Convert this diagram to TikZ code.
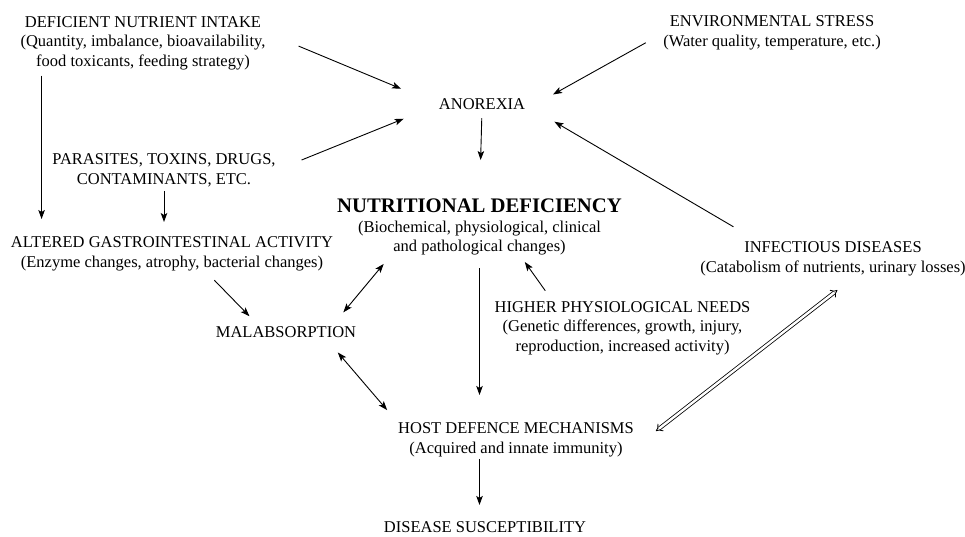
\documentclass[tikz,border=0pt]{standalone}
\usepackage{fontspec}
\setmainfont{Liberation Serif}
\usetikzlibrary{positioning,arrows.meta}

\begin{document}
\begin{tikzpicture}[x=1pt, y=-1pt, >={Stealth[length=9pt,width=6.5pt,inset=2pt]}, line width=0.9pt,
  box/.style={align=center, inner sep=0pt, outer sep=0pt, font=\fontsize{16.5}{19.5}\selectfont},
  big/.style={inner sep=0pt, outer sep=0pt, font=\fontsize{20.7}{24}\selectfont\bfseries},
  dbl/.style={double, double distance=2.4pt, line width=0.8pt, {Implies}-{Implies}}]

  \useasboundingbox (0,0) rectangle (965,537);

  \node[box] (intake) at (143,43) {DEFICIENT NUTRIENT INTAKE\\(Quantity, imbalance, bioavailability,\\food toxicants, feeding strategy)};
  \node[box] (stress) at (772,33) {ENVIRONMENTAL STRESS\\(Water quality, temperature, etc.)};
  \node[box] (anorexia) at (482,104.5) {ANOREXIA};
  \node[box] (parasites) at (164,170.5) {PARASITES, TOXINS, DRUGS,\\CONTAMINANTS, ETC.};
  \node[big] (deficiency) at (479.5,206) {NUTRITIONAL DEFICIENCY};
  \node[box] (changes) [below = 8pt of deficiency] {(Biochemical, physiological, clinical\\and pathological changes)};
  \node[box] (gut) at (172,254) {ALTERED GASTROINTESTINAL ACTIVITY\\(Enzyme changes, atrophy, bacterial changes)};
  \node[box] (infect) at (833,259) {INFECTIOUS DISEASES\\(Catabolism of nutrients, urinary losses)};
  \node[box] (malabs) at (286,332.5) {MALABSORPTION};
  \node[box] (needs) at (622.5,328) {HIGHER PHYSIOLOGICAL NEEDS\\(Genetic differences, growth, injury,\\reproduction, increased activity)};
  \node[box] (host) at (516,440) {HOST DEFENCE MECHANISMS\\(Acquired and innate immunity)};
  \node[box] (disease) at (485,527.5) {DISEASE SUSCEPTIBILITY};

  \path[->]
    (intake.5) edge[shorten <=36pt, shorten >=41pt] (anorexia.west)
    (stress.west) edge[shorten <=20pt, shorten >=32pt] (anorexia.south east)
    (parasites.east) edge[shorten <=28pt, shorten >=38pt] (anorexia.west)
    (infect.167) edge[shorten <=30pt, shorten >=34pt] (anorexia.east)
    (anorexia.south) edge[shorten <=8pt, shorten >=39pt] (deficiency.north)
    ([xshift=21pt]intake.south west) edge[shorten <=6pt, shorten >=18pt] ([xshift=21pt]intake.south west |- gut.north)
    (parasites.south) edge[shorten <=4pt, shorten >=15pt] (parasites.south |- gut.north)
    (gut.-27) edge[shorten <=13pt, shorten >=15pt] (malabs.168)
    (needs.159) edge[shorten <=13pt, shorten >=8pt] (changes.-23)
    (changes.south) edge[shorten <=13pt, shorten >=28pt] (changes.south |- host.north)
    (host.south -| changes.south) edge[shorten <=2pt, shorten >=17pt] (disease.north -| changes.south)
  ;
  \path[<->]
    (malabs.7) edge[shorten <=19pt, shorten >=11pt] (changes.191)
    (malabs.-8) edge[shorten <=19pt, shorten >=17pt] (host.north west)
  ;
  \draw[dbl, shorten <=28pt, shorten >=23pt] (host.-4) -- (infect.-37);
\end{tikzpicture}
\end{document}
